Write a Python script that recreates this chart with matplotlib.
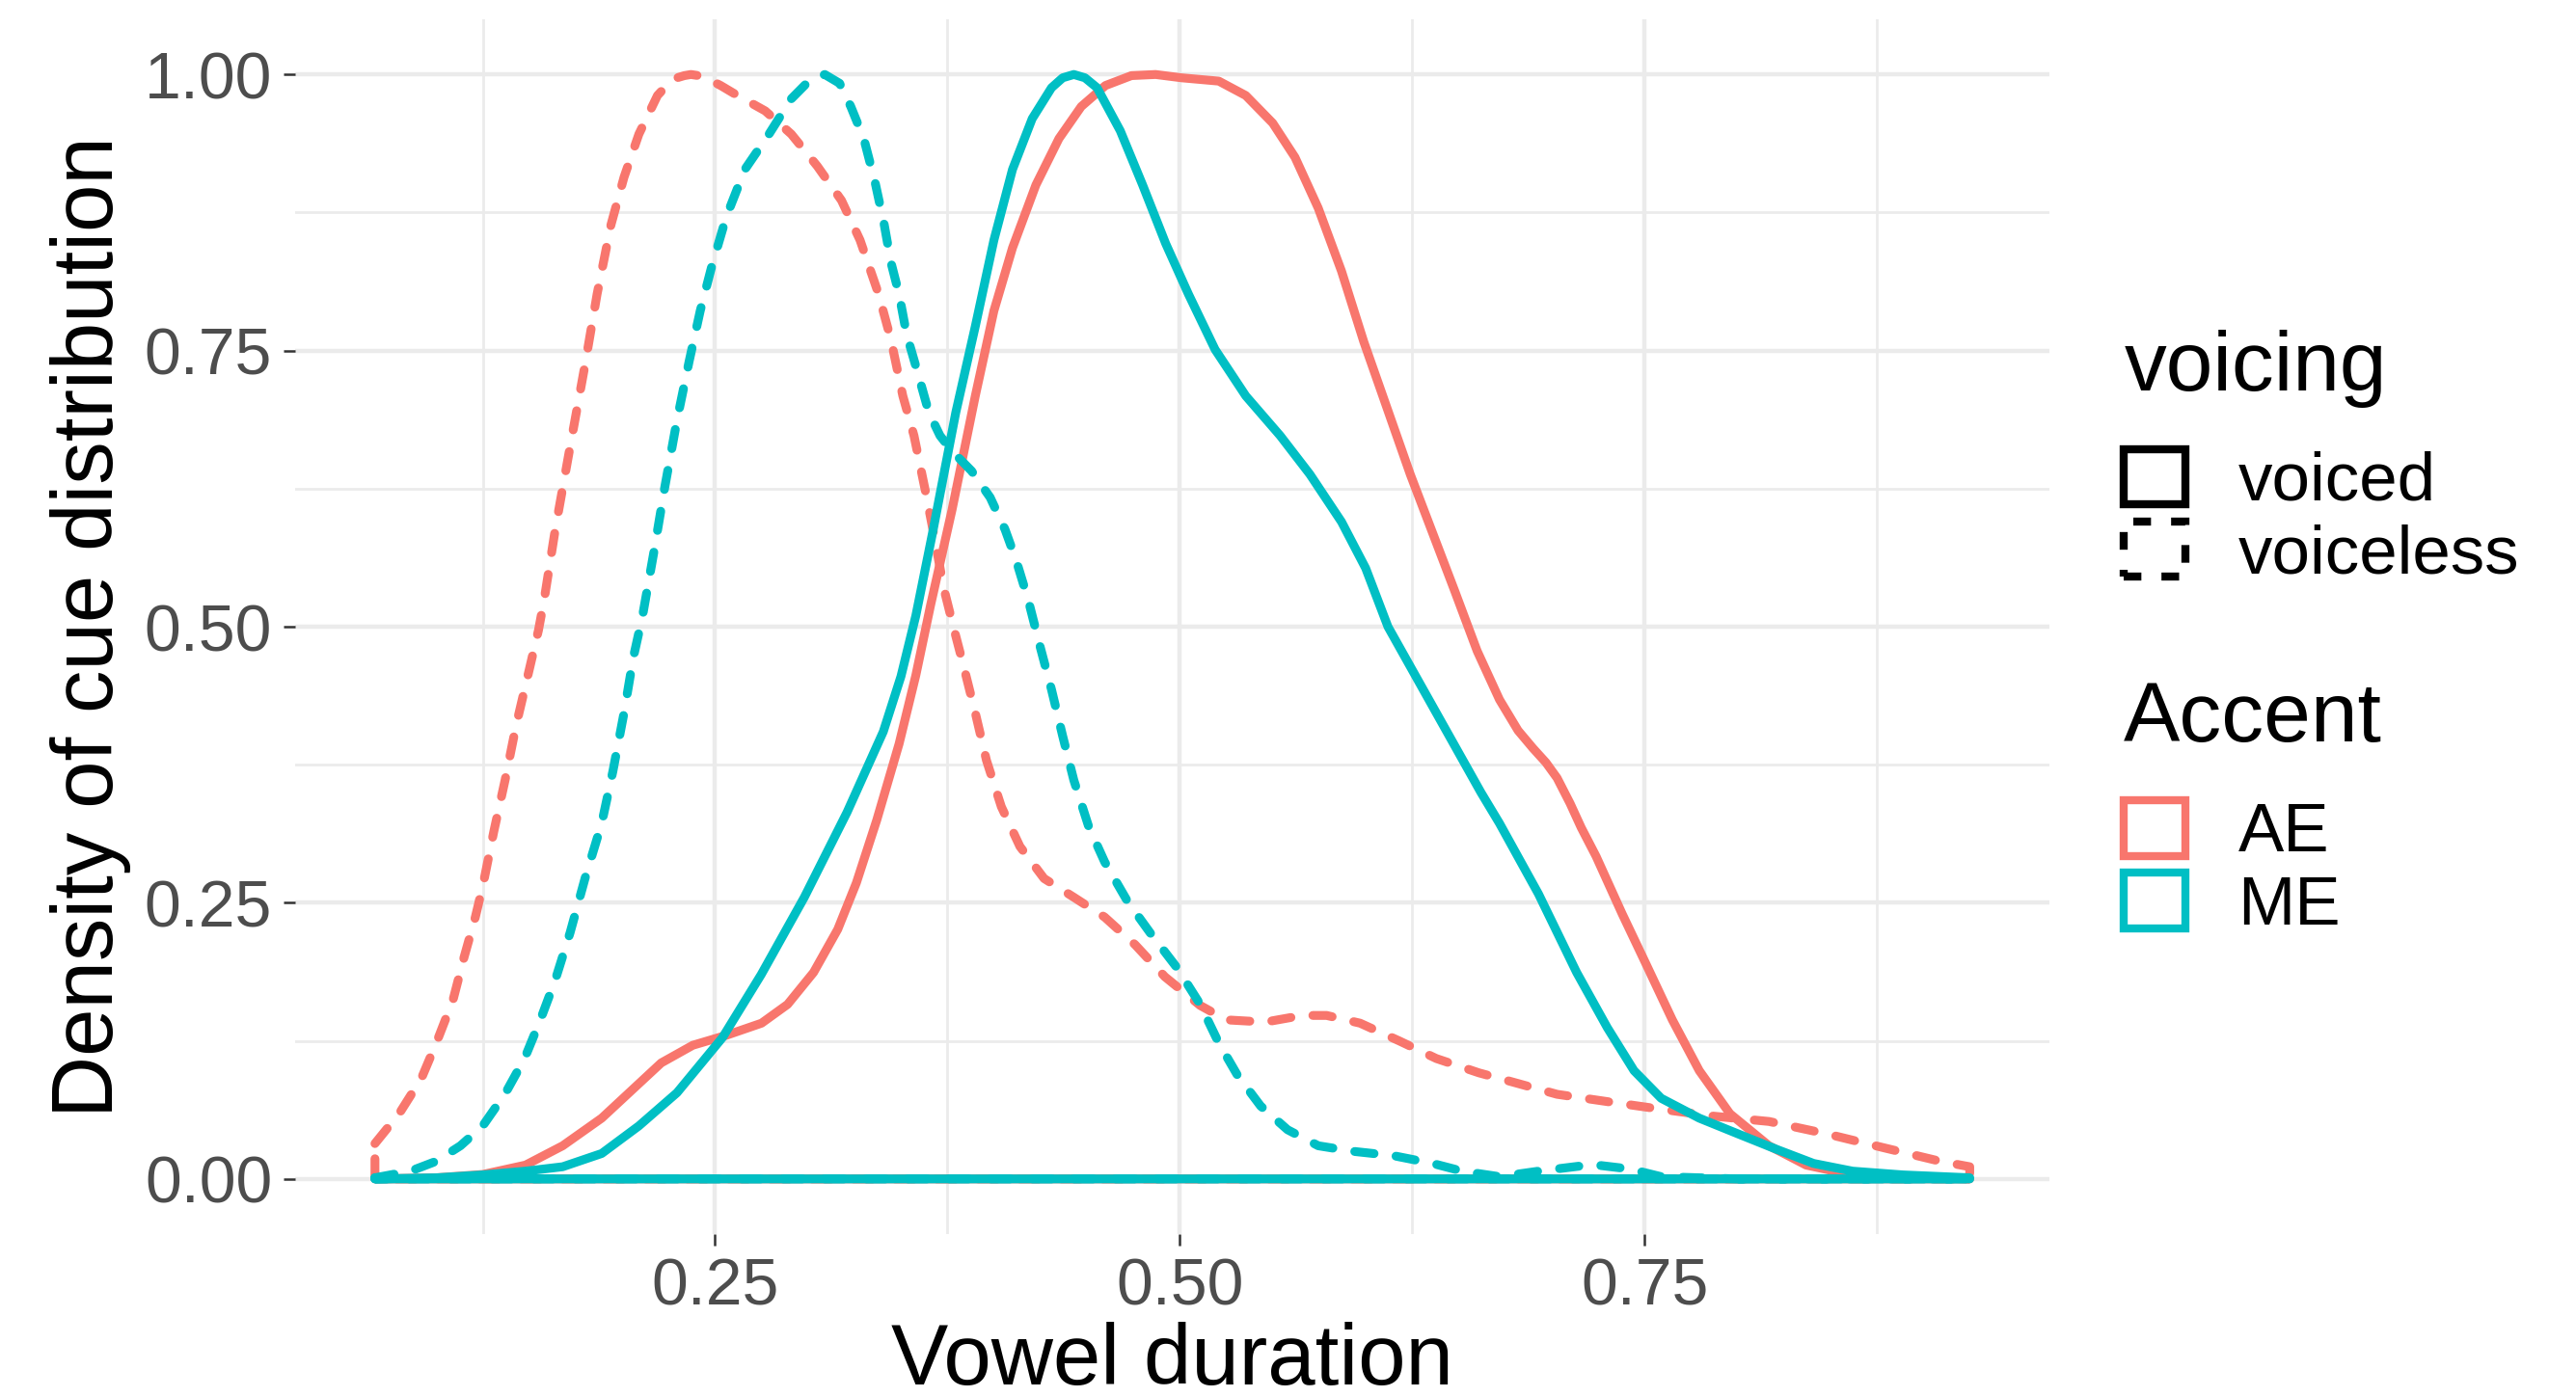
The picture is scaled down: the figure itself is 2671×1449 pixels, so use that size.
import numpy as np
import matplotlib.pyplot as plt
from matplotlib.patches import Patch

plt.rcParams['font.family'] = ['Liberation Sans', 'DejaVu Sans']

# scaled density curves (x = vowel duration, y = density / max)
ae_voiced_x = [0.067, 0.100, 0.125, 0.148, 0.168, 0.189, 0.205, 0.221, 0.238, 0.256, 0.275, 0.289,
               0.303, 0.316, 0.326, 0.337, 0.349, 0.358, 0.366, 0.3775, 0.390, 0.400, 0.410, 0.4226,
               0.435, 0.447, 0.460, 0.474, 0.487, 0.501, 0.521, 0.5355, 0.550, 0.562, 0.5745, 0.587,
               0.599, 0.6115, 0.624, 0.636, 0.648, 0.660, 0.672, 0.682, 0.690, 0.697, 0.703, 0.710,
               0.716, 0.724, 0.738, 0.751, 0.765, 0.7795, 0.796, 0.817, 0.837, 0.858, 0.878, 0.900,
               0.925]
ae_voiced_y = [0.000, 0.001, 0.004, 0.0125, 0.030, 0.055, 0.080, 0.105, 0.121, 0.130, 0.141, 0.158,
               0.187, 0.226, 0.268, 0.325, 0.394, 0.456, 0.520, 0.606, 0.709, 0.786, 0.843, 0.900,
               0.942, 0.971, 0.990, 0.999, 1.000, 0.997, 0.994, 0.981, 0.956, 0.925, 0.879, 0.822,
               0.758, 0.698, 0.638, 0.585, 0.532, 0.478, 0.434, 0.406, 0.390, 0.377, 0.363, 0.340,
               0.318, 0.292, 0.240, 0.194, 0.144, 0.098, 0.059, 0.030, 0.0125, 0.005, 0.0025, 0.001,
               0.000]

ae_voiceless_x = [0.067, 0.080, 0.092, 0.100, 0.109, 0.115, 0.121, 0.125, 0.131, 0.137, 0.143, 0.150,
                  0.155, 0.158, 0.164, 0.172, 0.180, 0.1865, 0.194, 0.201, 0.209, 0.219, 0.2245, 0.2295,
                  0.2335, 0.237, 0.241, 0.246, 0.253, 0.260, 0.277, 0.291, 0.305, 0.318, 0.328, 0.338,
                  0.3446, 0.351, 0.357, 0.363, 0.368, 0.373, 0.3785, 0.3836, 0.390, 0.396, 0.404, 0.414,
                  0.427, 0.443, 0.4596, 0.476, 0.492, 0.511, 0.525, 0.546, 0.566, 0.579, 0.597, 0.618,
                  0.638, 0.661, 0.672, 0.703, 0.734, 0.755, 0.786, 0.817, 0.8475, 0.878, 0.909, 0.925]
ae_voiceless_y = [0.032, 0.059, 0.091, 0.123, 0.162, 0.201, 0.237, 0.265, 0.315, 0.361, 0.411, 0.461,
                  0.497, 0.524, 0.588, 0.663, 0.737, 0.801, 0.864, 0.907, 0.946, 0.981, 0.991, 0.997,
                  0.999, 1.000, 0.999, 0.996, 0.990, 0.983, 0.967, 0.946, 0.917, 0.886, 0.850, 0.801,
                  0.760, 0.709, 0.673, 0.624, 0.581, 0.535, 0.498, 0.465, 0.422, 0.379, 0.337, 0.301,
                  0.272, 0.255, 0.237, 0.212, 0.183, 0.157, 0.144, 0.142, 0.148, 0.148, 0.141, 0.125,
                  0.109, 0.096, 0.091, 0.0766, 0.069, 0.064, 0.057, 0.052, 0.041, 0.0285, 0.016, 0.011]

me_voiced_x = [0.067, 0.100, 0.125, 0.148, 0.168, 0.189, 0.209, 0.2295, 0.254, 0.2748, 0.298, 0.321,
               0.3405, 0.350, 0.358, 0.367, 0.3795, 0.390, 0.400, 0.410, 0.4206, 0.431, 0.437, 0.443,
               0.449, 0.4555, 0.468, 0.480, 0.4924, 0.5047, 0.519, 0.5355, 0.554, 0.570, 0.587, 0.600,
               0.612, 0.628, 0.648, 0.662, 0.672, 0.693, 0.7135, 0.730, 0.7444, 0.759, 0.7795, 0.800,
               0.8207, 0.841, 0.862, 0.889, 0.925]
me_voiced_y = [0.000, 0.001, 0.0036, 0.007, 0.011, 0.023, 0.048, 0.078, 0.128, 0.185, 0.255, 0.332,
               0.405, 0.455, 0.510, 0.585, 0.694, 0.772, 0.850, 0.914, 0.960, 0.988, 0.997, 1.000,
               0.997, 0.988, 0.949, 0.900, 0.847, 0.801, 0.751, 0.709, 0.673, 0.638, 0.595, 0.553,
               0.500, 0.452, 0.392, 0.350, 0.322, 0.258, 0.187, 0.137, 0.098, 0.073, 0.055, 0.041,
               0.027, 0.014, 0.007, 0.0036, 0.001]

me_voiceless_x = [0.067, 0.086, 0.100, 0.113, 0.125, 0.137, 0.1475, 0.156, 0.164, 0.172, 0.180, 0.189,
                  0.195, 0.201, 0.206, 0.211, 0.217, 0.223, 0.2295, 0.236, 0.242, 0.248, 0.256, 0.266,
                  0.279, 0.291, 0.301, 0.309, 0.317, 0.323, 0.330, 0.336, 0.341, 0.3446, 0.349, 0.353,
                  0.359, 0.365, 0.371, 0.3775, 0.388, 0.398, 0.406, 0.412, 0.4185, 0.4247, 0.431, 0.437,
                  0.443, 0.451, 0.4596, 0.472, 0.484, 0.4986, 0.511, 0.521, 0.531, 0.5435, 0.558, 0.5745,
                  0.593, 0.615, 0.636, 0.652, 0.672, 0.693, 0.722, 0.742, 0.759, 0.800, 0.925]
me_voiceless_y = [0.001, 0.007, 0.016, 0.030, 0.048, 0.077, 0.109, 0.144, 0.180, 0.223, 0.272, 0.322,
                  0.369, 0.422, 0.472, 0.510, 0.567, 0.627, 0.687, 0.740, 0.786, 0.825, 0.871, 0.914,
                  0.946, 0.978, 0.995, 1.000, 0.992, 0.971, 0.942, 0.903, 0.864, 0.830, 0.801, 0.765,
                  0.730, 0.694, 0.673, 0.659, 0.641, 0.617, 0.588, 0.560, 0.524, 0.483, 0.443, 0.401,
                  0.361, 0.319, 0.287, 0.251, 0.223, 0.191, 0.158, 0.123, 0.094, 0.066, 0.0445, 0.030,
                  0.025, 0.021, 0.014, 0.007, 0.002, 0.007, 0.013, 0.009, 0.002, 0.000, 0.000]

accents = ['AE', 'ME']
voicings = ['voiced', 'voiceless']
colors = {'AE': '#F8766D', 'ME': '#00BFC4'}
dashes = {'voiced': '-', 'voiceless': (0, (2.2, 2.5))}

curves = [('AE', 'voiced', ae_voiced_x, ae_voiced_y),
          ('AE', 'voiceless', ae_voiceless_x, ae_voiceless_y),
          ('ME', 'voiced', me_voiced_x, me_voiced_y),
          ('ME', 'voiceless', me_voiceless_x, me_voiceless_y)]

fig = plt.figure(figsize=(13.355, 7.245), dpi=200)
ax = fig.add_axes([0.1146, 0.1166, 0.6810, 0.8696])

# density outlines drawn as closed polygons (baseline included), like geom_density
for acc, voi, xs, ys in curves:
    px = list(xs) + [xs[-1], xs[0]]
    py = list(ys) + [0, 0]
    poly = ax.fill(px, py, facecolor='none', edgecolor=colors[acc], linewidth=3.3,
                   linestyle=dashes[voi])[0]
    poly.set_capstyle('round')
    poly.set_joinstyle('round')

allx = np.concatenate([c[2] for c in curves])
pad = 0.05 * (allx.max() - allx.min())
ax.set_xlim(allx.min() - pad, allx.max() + pad)
ax.set_ylim(-0.05, 1.05)

ax.set_xticks([0.25, 0.50, 0.75])
ax.set_xticks([0.125, 0.375, 0.625, 0.875], minor=True)
ax.set_yticks([0, 0.25, 0.5, 0.75, 1.0])
ax.set_yticks([0.125, 0.375, 0.625, 0.875], minor=True)
ax.set_xticklabels(['0.25', '0.50', '0.75'])
ax.set_yticklabels(['0.00', '0.25', '0.50', '0.75', '1.00'])
ax.grid(which='major', color='#EBEBEB', linewidth=1.6)
ax.grid(which='minor', color='#EBEBEB', linewidth=1.0)
ax.set_axisbelow(True)
for s in ax.spines.values():
    s.set_visible(False)
ax.tick_params(which='major', length=4.3, width=0.9, color='#333333', pad=4.3,
               labelsize=24.5, labelcolor='#4D4D4D')
ax.tick_params(which='minor', length=0)

ax.set_xlabel('Vowel duration', fontsize=32, labelpad=1)
ax.set_ylabel('Density of cue distribution', fontsize=32, labelpad=5)

# legends
voi_handles = [Patch(facecolor='none', edgecolor='black', linewidth=3.0, linestyle=dashes[v])
               for v in voicings]
acc_handles = [Patch(facecolor='none', edgecolor=colors[a], linewidth=3.0) for a in accents]
leg_kw = dict(loc='upper left', frameon=False, alignment='left', fontsize=25.5,
              title_fontsize=31.5, handlelength=0.9, handleheight=0.87, handletextpad=0.77,
              labelspacing=0.1, borderpad=0, borderaxespad=0)
leg1 = fig.legend(voi_handles, voicings, title='voicing', bbox_to_anchor=(0.8245, 0.7643), **leg_kw)
leg2 = fig.legend(acc_handles, accents, title='Accent', bbox_to_anchor=(0.8245, 0.5127), **leg_kw)
for leg in (leg1, leg2):
    leg._legend_box.sep = 15.5

fig.savefig('out.png', dpi=200)
